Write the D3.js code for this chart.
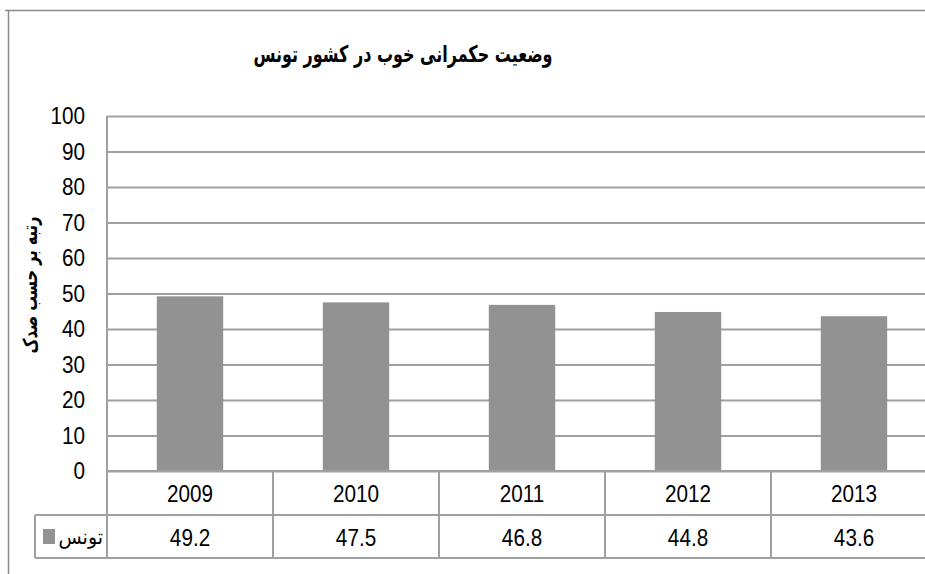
<!DOCTYPE html>
<html><head><meta charset="utf-8">
<script src="https://cdn.jsdelivr.net/npm/d3@7"></script>
<style>body{margin:0;background:#fff}svg{display:block}</style>
</head><body>
<svg id="c" width="925" height="574"></svg>
<script>
const title = "وضعیت حکمرانی خوب در کشور تونس";
const yTitle = "رتبه بر حسب صدک";
const seriesName = "تونس";
const categories = ["2009","2010","2011","2012","2013"];
const values = [49.2, 47.5, 46.8, 44.8, 43.6];
const yTicks = [0,10,20,30,40,50,60,70,80,90,100];

const svg = d3.select("#c");
const L = 107, R = 937, T = 116, B = 471;
const row1 = 515, row2 = 558, legL = 35;
const numFont = "'Liberation Sans',Arial,sans-serif";
const arFont = "'DejaVu Sans',sans-serif";
const lineCol = "#a0a0a0";
const SX = 0.9; // horizontal condensing to mimic a narrow face

const x = d3.scaleBand().domain(categories).range([L, R]).paddingInner(0.6).paddingOuter(0.3);
const y = d3.scaleLinear().domain([0, 100]).range([B, T]);

// outer frame
svg.append("path").attr("d", `M5,10.5H925M8.5,10V574`).attr("stroke", "#8a8a8a").attr("stroke-width", 1.5).attr("fill", "none");

// gridlines via axis
const gy = svg.append("g").attr("transform", `translate(${L},0)`)
  .call(d3.axisLeft(y).tickValues(yTicks).tickSize(-(R - L)).tickFormat(""));
gy.select(".domain").remove();
gy.selectAll("line").attr("stroke", lineCol).attr("stroke-width", 2);

// tick labels
svg.append("g").selectAll("text").data(yTicks).join("text")
  .attr("transform", d => `translate(85,${y(d)}) scale(${SX},1)`).attr("dy", "0.36em")
  .attr("text-anchor", "end").attr("font-family", numFont).attr("font-size", 23)
  .attr("fill", "#000").text(d => d);

// bars
svg.append("g").selectAll("rect").data(values).join("rect")
  .attr("x", (d, i) => x(categories[i])).attr("width", x.bandwidth())
  .attr("y", d => y(d)).attr("height", d => y(0) - y(d))
  .attr("fill", "#929292");

// table lines
const tbl = svg.append("g").attr("stroke", lineCol).attr("stroke-width", 2).attr("fill", "none");
tbl.append("line").attr("x1", L).attr("x2", R).attr("y1", y(0)).attr("y2", y(0));
tbl.append("line").attr("x1", legL).attr("x2", R).attr("y1", row1).attr("y2", row1);
tbl.append("line").attr("x1", legL).attr("x2", R).attr("y1", row2).attr("y2", row2);
tbl.append("line").attr("x1", legL).attr("x2", legL).attr("y1", row1).attr("y2", row2);
tbl.append("line").attr("x1", L).attr("x2", L).attr("y1", T).attr("y2", row2);
categories.forEach(c => {
  const xr = x(c) + x.bandwidth() / 2 + x.step() / 2;
  tbl.append("line").attr("x1", xr).attr("x2", xr).attr("y1", y(0)).attr("y2", row2);
});

// category labels and values
svg.append("g").selectAll("text").data(categories).join("text")
  .attr("transform", d => `translate(${x(d) + x.bandwidth() / 2},${(y(0) + row1) / 2 + 1}) scale(${SX},1)`).attr("dy", "0.36em")
  .attr("text-anchor", "middle").attr("font-family", numFont).attr("font-size", 23).text(d => d);
svg.append("g").selectAll("text").data(values).join("text")
  .attr("transform", (d, i) => `translate(${x(categories[i]) + x.bandwidth() / 2},${(row1 + row2) / 2 + 1}) scale(${SX},1)`).attr("dy", "0.36em")
  .attr("text-anchor", "middle").attr("font-family", numFont).attr("font-size", 23).text(d => d.toFixed(1));

// legend cell
svg.append("rect").attr("x", 43).attr("y", 529).attr("width", 12).attr("height", 15).attr("fill", "#929292");
svg.append("text").attr("transform", `translate(103,537) scale(0.95,1)`).attr("dy", "0.35em").attr("text-anchor", "end")
  .attr("font-family", arFont).attr("font-size", 20).text(seriesName);

// title
svg.append("text").attr("transform", `translate(403,54) scale(0.695,1)`).attr("dy", "0.35em").attr("text-anchor", "middle")
  .attr("font-family", arFont).attr("font-weight", "bold").attr("font-size", 23).text(title);

// y axis title
svg.append("text").attr("transform", `translate(30,285) rotate(-90) scale(0.73,1)`).attr("dy", "0.35em")
  .attr("text-anchor", "middle").attr("font-family", arFont).attr("font-weight", "bold").attr("font-size", 20)
  .text(yTitle);
</script>
</body></html>
